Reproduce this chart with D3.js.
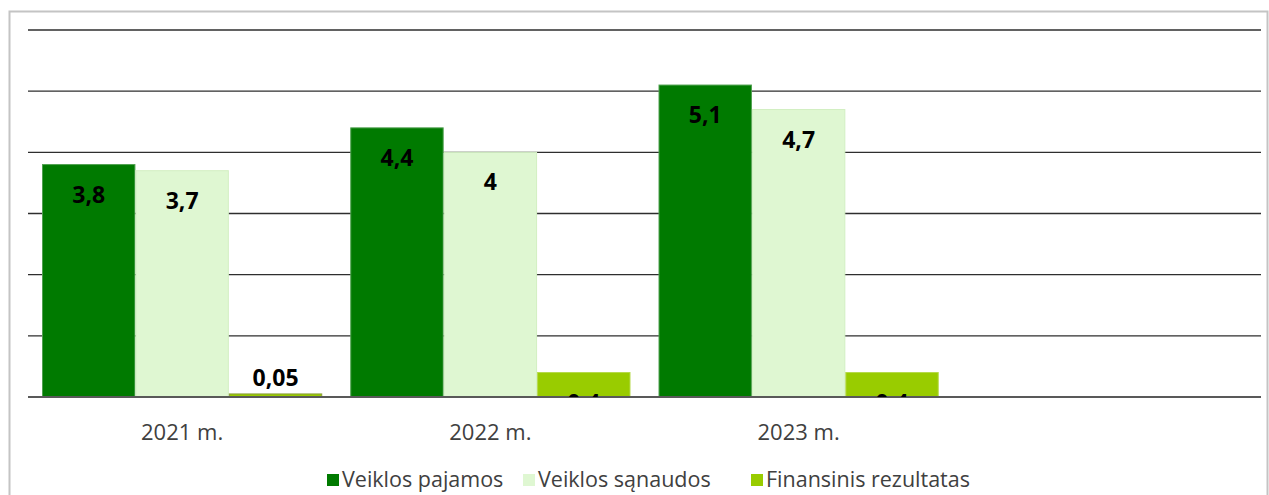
<!DOCTYPE html>
<html>
<head>
<meta charset="utf-8">
<script src="https://cdn.jsdelivr.net/npm/d3@7"></script>
<style>
  body { margin: 0; background: #fff; }
  text { font-family: "Open Sans", "Noto Sans", sans-serif; }
</style>
</head>
<body>
<svg id="chart" width="1269" height="495"></svg>
<script>
'use strict';

var years = ['2021 m.', '2022 m.', '2023 m.', ''];
var seriesNames = ['Veiklos pajamos', 'Veiklos sąnaudos', 'Finansinis rezultatas'];
var pajamos = [3.8, 4.4, 5.1];
var sanaudos = [3.7, 4, 4.7];
var rezultatas = [0.05, 0.4, 0.4];
var gridTicks = [0, 1, 2, 3, 4, 5, 6];

var colors = ['#007a00', '#dff7d2', '#99cc00'],
strokes = ['#4fa04f', '#d2efc2', '#b5d94a'];

var svg = d3.select('#chart');

// frame
svg.append('rect').attr('x', 9.5).attr('y', 11.5)
.attr('width', 1258).attr('height', 500)
.attr('fill', 'none').attr('stroke', '#c4c4c4').attr('stroke-width', 2);

var plotLeft = 28, plotRight = 1261, plotTop = 30, base = 397;

var x0 = d3.scaleBand().domain(years).range([plotLeft, plotRight]);
var x1 = d3.scaleBand().domain(seriesNames).range([0, x0.bandwidth()])
.paddingOuter(0.15).paddingInner(0);
var y = d3.scaleLinear().domain([0, 6]).range([base, plotTop]);

// grid
svg.append('g').selectAll('line').data(gridTicks.slice(1)).join('line')
.attr('x1', plotLeft).attr('x2', plotRight)
.attr('y1', function (d) { return y(d); }).attr('y2', function (d) { return y(d); })
.attr('stroke', '#2e2e2e').attr('stroke-width', 1.4);

var data = [];
[pajamos, sanaudos, rezultatas].forEach(function (vals, s) {
	vals.forEach(function (v, i) {
		data.push({year: years[i], series: seriesNames[s], s: s, v: v});
	});
});

svg.append('defs').append('clipPath').attr('id', 'plot')
.append('rect').attr('x', plotLeft).attr('y', 0)
.attr('width', plotRight - plotLeft).attr('height', base);

svg.append('g').selectAll('rect').data(data).join('rect')
.attr('x', function (d) { return x0(d.year) + x1(d.series) + 0.5; })
.attr('y', function (d) { return y(d.v); })
.attr('width', x1.bandwidth() - 1)
.attr('height', function (d) { return base - y(d.v); })
.attr('fill', function (d) { return colors[d.s]; })
.attr('stroke', function (d) { return d.v < 0.1 ? '#8a9d3a' : strokes[d.s]; })
.attr('stroke-width', 1);

// baseline
svg.append('line').attr('x1', plotLeft).attr('x2', plotRight)
.attr('y1', base).attr('y2', base)
.attr('stroke', '#595959').attr('stroke-width', 2);

// value labels (the small ones fall below the axis and get cut)
svg.append('g').attr('clip-path', 'url(#plot)')
.selectAll('text').data(data).join('text')
.attr('x', function (d) { return x0(d.year) + x1(d.series) + x1.bandwidth() / 2; })
.attr('y', function (d) {
	var h = base - y(d.v);
	return h < 5 ? y(d.v) - 8 : y(d.v) + 38;
})
.attr('text-anchor', 'middle')
.attr('font-size', 23).attr('font-weight', 'bold').attr('fill', '#000')
.text(function (d) { return String(d.v).replace('.', ','); });

// category labels
svg.append('g').selectAll('text').data(years).join('text')
.attr('x', function (d) { return x0(d) + x0.bandwidth() / 2; })
.attr('y', 440)
.attr('text-anchor', 'middle')
.attr('font-size', 22).attr('fill', '#404040')
.text(function (d) { return d; });

// legend
var legendX = [327, 523, 751];
var leg = svg.append('g').selectAll('g').data(seriesNames).join('g')
.attr('transform', function (d, i) { return 'translate(' + legendX[i] + ',474)'; });
leg.append('rect').attr('width', 12).attr('height', 12)
.attr('fill', function (d, i) { return colors[i]; });
leg.append('text').attr('x', 15).attr('y', 13)
.attr('font-size', 21.5).attr('fill', '#404040')
.text(function (d) { return d; });
</script>
</body>
</html>
